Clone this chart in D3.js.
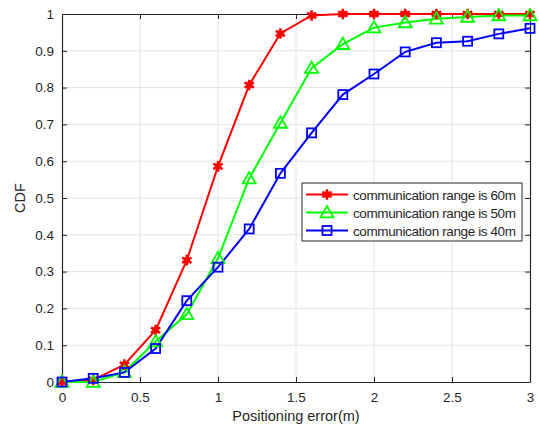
<!DOCTYPE html>
<html>
<head>
<meta charset="utf-8">
<script src="https://cdn.jsdelivr.net/npm/d3@7"></script>
<style>
  html, body { margin: 0; padding: 0; background: #fff; }
  svg { display: block; font-family: "Liberation Sans", Arial, Helvetica, sans-serif; }
</style>
</head>
<body>
<svg id="chart" width="539" height="428"></svg>
<script>
// Positioning error samples (m)
const errors = [0, 0.2, 0.4, 0.6, 0.8, 1.0, 1.2, 1.4, 1.6, 1.8, 2.0, 2.2, 2.4, 2.6, 2.8, 3.0];

// CDF values per communication range
const cdf60 = [0, 0.006, 0.047, 0.141, 0.331, 0.586, 0.807, 0.947, 0.996, 1, 1, 1, 1, 1, 1, 1];
const cdf50 = [0, 0.0, 0.027, 0.11, 0.184, 0.336, 0.553, 0.704, 0.853, 0.918, 0.963, 0.977, 0.987, 0.992, 0.996, 0.996];
const cdf40 = [0, 0.01, 0.026, 0.091, 0.221, 0.312, 0.416, 0.567, 0.677, 0.781, 0.837, 0.897, 0.922, 0.926, 0.946, 0.961];

const seriesNames = ["communication range is 60m", "communication range is 50m", "communication range is 40m"];
const xTicks = [0, 0.5, 1, 1.5, 2, 2.5, 3];
const yTicks = [0, 0.1, 0.2, 0.3, 0.4, 0.5, 0.6, 0.7, 0.8, 0.9, 1];

const series = [
  { name: seriesNames[0], values: cdf60, color: "#ff0000", marker: "star" },
  { name: seriesNames[1], values: cdf50, color: "#00ff00", marker: "triangle" },
  { name: seriesNames[2], values: cdf40, color: "#0000ff", marker: "square" }
];

const svg = d3.select("#chart");
const margin = { left: 62, right: 9, top: 14, bottom: 46 };
const W = 539, H = 428;
const x = d3.scaleLinear().domain([0, 3]).range([margin.left, W - margin.right]);
const y = d3.scaleLinear().domain([0, 1]).range([H - margin.bottom, margin.top]);

const axisColor = "#262626";
const gridColor = "#e3e3e3";

// grid
const grid = svg.append("g");
grid.selectAll(".gx").data(xTicks.slice(1, -1)).join("line")
  .attr("x1", d => x(d)).attr("x2", d => x(d))
  .attr("y1", y(0)).attr("y2", y(1))
  .attr("stroke", gridColor).attr("stroke-width", 1);
grid.selectAll(".gy").data(yTicks.slice(1, -1)).join("line")
  .attr("y1", d => y(d)).attr("y2", d => y(d))
  .attr("x1", x(0)).attr("x2", x(3))
  .attr("stroke", gridColor).attr("stroke-width", 1);

// axes
const fmt = d => String(+d.toFixed(2));
const tickLen = 5;
const bottomAxis = svg.append("g").attr("transform", `translate(0,${y(0)})`)
  .call(d3.axisBottom(x).tickValues(xTicks).tickFormat(fmt).tickSizeInner(-tickLen).tickSizeOuter(0).tickPadding(10));
const topAxis = svg.append("g").attr("transform", `translate(0,${y(1)})`)
  .call(d3.axisTop(x).tickValues(xTicks).tickFormat("").tickSizeInner(-tickLen).tickSizeOuter(0));
const leftAxis = svg.append("g").attr("transform", `translate(${x(0)},0)`)
  .call(d3.axisLeft(y).tickValues(yTicks).tickFormat(fmt).tickSizeInner(-tickLen).tickSizeOuter(0).tickPadding(8));
const rightAxis = svg.append("g").attr("transform", `translate(${x(3)},0)`)
  .call(d3.axisRight(y).tickValues(yTicks).tickFormat("").tickSizeInner(-tickLen).tickSizeOuter(0));

[bottomAxis, topAxis, leftAxis, rightAxis].forEach(g => {
  g.select(".domain").attr("stroke", axisColor).attr("stroke-width", 1.2);
  g.selectAll(".tick line").attr("stroke", axisColor);
  g.selectAll(".tick text").attr("fill", axisColor).attr("font-size", 13.5)
    .attr("font-family", "'Liberation Sans', Arial, sans-serif");
});

// axis labels
svg.append("text")
  .attr("x", (x(0) + x(3)) / 2).attr("y", 421)
  .attr("text-anchor", "middle").attr("fill", axisColor).attr("font-size", 14.5)
  .text("Positioning error(m)");
svg.append("text")
  .attr("transform", `translate(25,${(y(0) + y(1)) / 2}) rotate(-90)`)
  .attr("text-anchor", "middle").attr("fill", axisColor).attr("font-size", 14.5)
  .text("CDF");

// markers
function drawMarker(g, type, color) {
  if (type === "star") {
    g.append("path").attr("d", d3.symbol(d3.symbolAsterisk, 80)())
      .attr("stroke", color).attr("stroke-width", 2.6).attr("fill", "none");
    g.append("circle").attr("r", 3.2).attr("fill", color);
  } else if (type === "triangle") {
    g.append("path").attr("d", "M0,-6.5L6.5,4.8L-6.5,4.8Z")
      .attr("stroke", color).attr("stroke-width", 1.8).attr("fill", "none");
  } else {
    g.append("rect").attr("x", -4.5).attr("y", -4.5).attr("width", 9).attr("height", 9)
      .attr("stroke", color).attr("stroke-width", 1.8).attr("fill", "none");
  }
}

const line = d3.line().x((d, i) => x(errors[i])).y(d => y(d));
const plot = svg.append("g");
series.forEach(s => {
  plot.append("path").datum(s.values).attr("d", line)
    .attr("fill", "none").attr("stroke", s.color).attr("stroke-width", 2);
});
series.forEach(s => {
  s.values.forEach((v, i) => {
    const g = plot.append("g").attr("transform", `translate(${x(errors[i])},${y(v)})`);
    drawMarker(g, s.marker, s.color);
  });
});

// legend
const lg = svg.append("g").attr("transform", "translate(302,183)");
lg.append("rect").attr("width", 220).attr("height", 58)
  .attr("fill", "#fff").attr("stroke", axisColor).attr("stroke-width", 1);
series.forEach((s, i) => {
  const cy = 11.5 + i * 18;
  lg.append("line").attr("x1", 4).attr("x2", 46).attr("y1", cy).attr("y2", cy)
    .attr("stroke", s.color).attr("stroke-width", 2);
  const mg = lg.append("g").attr("transform", `translate(25,${cy})`);
  drawMarker(mg, s.marker, s.color);
  lg.append("text").attr("x", 51).attr("y", cy + 5)
    .attr("fill", axisColor).attr("font-size", 13.5)
    .attr("textLength", 163).attr("lengthAdjust", "spacing")
    .text(s.name);
});
</script>
</body>
</html>
